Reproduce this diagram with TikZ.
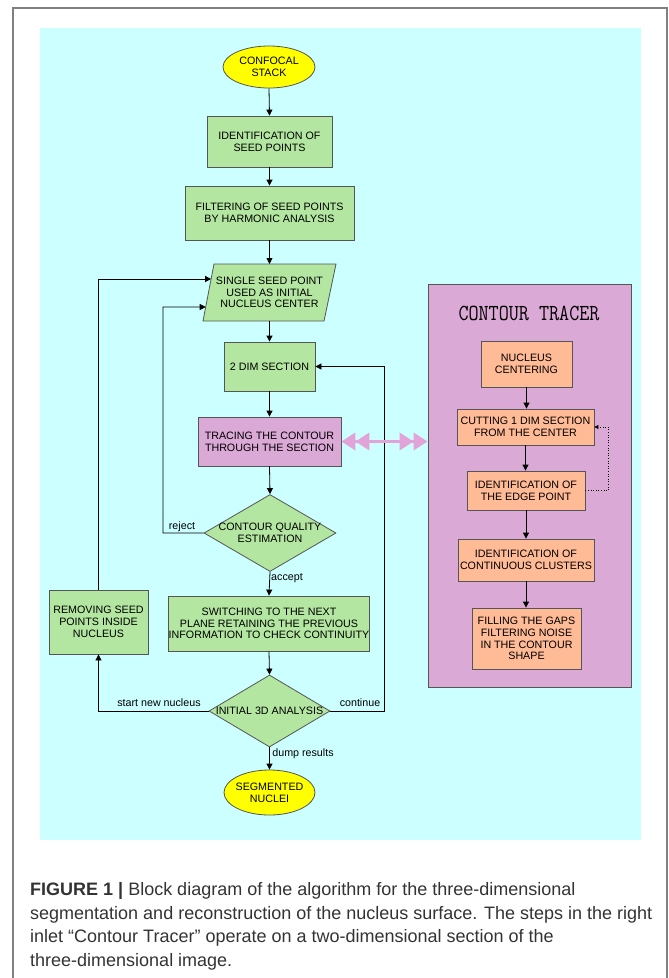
\documentclass[tikz,border=0pt]{standalone}
\usepackage{fontspec}
\setmainfont{Liberation Sans}
\usetikzlibrary{arrows.meta,calc,shapes.geometric}

\definecolor{bgcyan}{HTML}{CCFFFF}
\definecolor{boxgreen}{HTML}{B3E6A0}
\definecolor{boxplum}{HTML}{DBA9D6}
\definecolor{boxorange}{HTML}{FFBA96}
\definecolor{boxyellow}{HTML}{FFFF00}
\definecolor{edgegray}{HTML}{555555}
\definecolor{arrowpink}{HTML}{E2A3D9}
\definecolor{framegray}{HTML}{808080}
\definecolor{captext}{HTML}{333333}

\begin{document}
\begin{tikzpicture}[x=1pt,y=-1pt,
  every node/.style={font=\fontsize{10.7}{11.8}\selectfont, inner sep=0pt, align=center, text=black},
  gbox/.style={draw=edgegray, fill=boxgreen, line width=0.8pt},
  obox/.style={draw=edgegray, fill=boxorange, line width=0.8pt},
  pbox/.style={draw=edgegray, fill=boxplum, line width=0.8pt},
  ybox/.style={ellipse, draw=edgegray, fill=boxyellow, line width=0.8pt, inner sep=-6pt},
  dbox/.style={diamond, aspect=1.7, draw=edgegray, fill=boxgreen, line width=0.8pt, inner sep=-8pt},
  conn/.style={black, line width=0.8pt, -{Triangle[length=6pt,width=6pt]}},
  dotconn/.style={black, line width=0.6pt, dotted, -{Triangle[length=4pt,width=4pt]}},
  lbl/.style={font=\fontsize{10.7}{12}\selectfont},
  capline/.style={anchor=base west, font=\fontsize{18}{24}\selectfont, align=left, text=captext}
]
\useasboundingbox (0,0) rectangle (669,978);
% outer frame
\draw[framegray, line width=1.2pt] (13,990) -- (13,8) -- (667,8) -- (667,990);
% cyan background
\fill[bgcyan] (40,28) rectangle (641,840);

% contour tracer panel
\node[pbox, minimum width=203pt, minimum height=403pt] (tracer) at (529.5,485.5) {};
\node (title) at (529,313) {\scalebox{0.85}[1]{\ttfamily\fontsize{23}{25}\selectfont CONTOUR\ TRACER}};

% main flow
\node[ybox, minimum width=92pt, minimum height=42pt] (conf) at (269,67) {CONFOCAL\\STACK};
\node[gbox, minimum width=125pt, minimum height=51pt] (id) at (269.5,141.5) {IDENTIFICATION OF\\SEED POINTS};
\node[gbox, minimum width=169pt, minimum height=54pt] (filt) at (269.5,213) {FILTERING OF SEED POINTS\\BY HARMONIC ANALYSIS};

\coordinate (pTL) at (214,264);
\coordinate (pTR) at (336,264);
\coordinate (pBR) at (324,321);
\coordinate (pBL) at (203,321);
\draw[draw=edgegray, fill=boxgreen, line width=0.8pt] (pTL) -- (pTR) -- (pBR) -- (pBL) -- cycle;
\node (par) at (269.5,292.5) {SINGLE SEED POINT\\USED AS INITIAL\\NUCLEUS CENTER};
\coordinate (pin1) at ($(pTL)!0.263!(pBL)$);
\coordinate (pin2) at ($(pTL)!0.754!(pBL)$);

\node[gbox, minimum width=91pt, minimum height=49pt] (dim) at (269.5,366.5) {2 DIM SECTION};
\node[pbox, minimum width=143pt, minimum height=49pt] (trace) at (269.5,441.5) {TRACING THE CONTOUR\\THROUGH THE SECTION};
\node[dbox, minimum width=132pt, minimum height=77pt] (qual) at (270,533) {CONTOUR QUALITY\\ESTIMATION};
\node[gbox, minimum width=200pt, minimum height=55pt] (sw) at (269,623.5) {SWITCHING TO THE NEXT\\PLANE RETAINING THE PREVIOUS\\INFORMATION TO CHECK CONTINUITY};
\node[gbox, minimum width=99pt, minimum height=64pt] (rem) at (98.5,622) {REMOVING SEED\\POINTS INSIDE\\NUCLEUS};
\node[dbox, minimum width=121pt, minimum height=72pt] (init) at (269.5,711) {INITIAL 3D ANALYSIS};
\node[ybox, minimum width=91pt, minimum height=45pt] (seg) at (269.5,792.5) {SEGMENTED\\NUCLEI};

% contour tracer boxes
\node[obox, minimum width=91pt, minimum height=46pt] (nc) at (526.5,364) {NUCLEUS\\CENTERING};
\node[obox, minimum width=137pt, minimum height=36pt] (cut) at (525.5,427) {CUTTING 1 DIM SECTION\\FROM THE CENTER};
\node[obox, minimum width=118pt, minimum height=39pt] (edge) at (526,490.5) {IDENTIFICATION OF\\THE EDGE POINT};
\node[obox, minimum width=136pt, minimum height=42pt] (clu) at (526,560) {IDENTIFICATION OF\\CONTINUOUS CLUSTERS};
\node[obox, minimum width=109pt, minimum height=61pt] (fill) at (526.5,638.5) {FILLING THE GAPS\\FILTERING NOISE\\IN THE CONTOUR\\SHAPE};

% main connectors
\draw[conn] (conf.south) -- (id.north);
\draw[conn] (id.south) -- (filt.north);
\draw[conn] (filt.south) -- (filt.south |- pTL);
\draw[conn] (dim.north |- pBL) -- (dim.north);
\draw[conn] (dim.south) -- (trace.north);
\draw[conn] (trace.south) -- (qual.north);
\draw[conn] (qual.south) -- (sw.north);
\draw[conn] (sw.south) -- (init.north);
\draw[conn] (init.south) -- (seg.north);
\draw[conn] (qual.west) -- (163,533) -- (163,307) -- (pin2);
\draw[conn] (init.west) -- (init.west -| rem.south) -- (rem.south);
\draw[conn] (rem.north) -- (rem.north |- pin1) -- (pin1);
\draw[conn] (init.east) -- (384,711) -- (384,366.5) -- (dim.east);

% labels
\node[lbl] (lrej) at (182,527) {reject};
\node[lbl] (lacc) at (287,578) {accept};
\node[lbl] (lstart) at (159,703) {start new nucleus};
\node[lbl] (lcont) at (360,703) {continue};
\node[lbl] (ldump) at (303,754) {dump results};

% pink double arrow
\draw[arrowpink, line width=3.5pt, {Triangle[length=14pt,width=17pt] Triangle[length=14pt,width=17pt]}-{Triangle[length=14pt,width=17pt] Triangle[length=14pt,width=17pt]}] (trace.east) -- (trace.east -| tracer.west);

% tracer connectors
\draw[conn] (nc.south) -- (nc.south |- cut.north);
\draw[conn] (cut.south) -- (cut.south |- edge.north);
\draw[conn] (edge.south) -- (edge.south |- clu.north);
\draw[conn] (clu.south) -- (clu.south |- fill.north);
\draw[dotconn] (edge.east) -- (608,490.5) -- (608,427) -- (cut.east);

% caption
\node[capline] (cap1) at (30,895.5) {\textbf{FIGURE 1 |} Block diagram of the algorithm for the three-dimensional};
\node[capline] (cap2) at (30,919) {segmentation and reconstruction of the nucleus surface. The steps in the right};
\node[capline] (cap3) at (30,942.5) {inlet “Contour Tracer” operate on a two-dimensional section of the};
\node[capline] (cap4) at (30,966) {three-dimensional image.};
\end{tikzpicture}
\end{document}
